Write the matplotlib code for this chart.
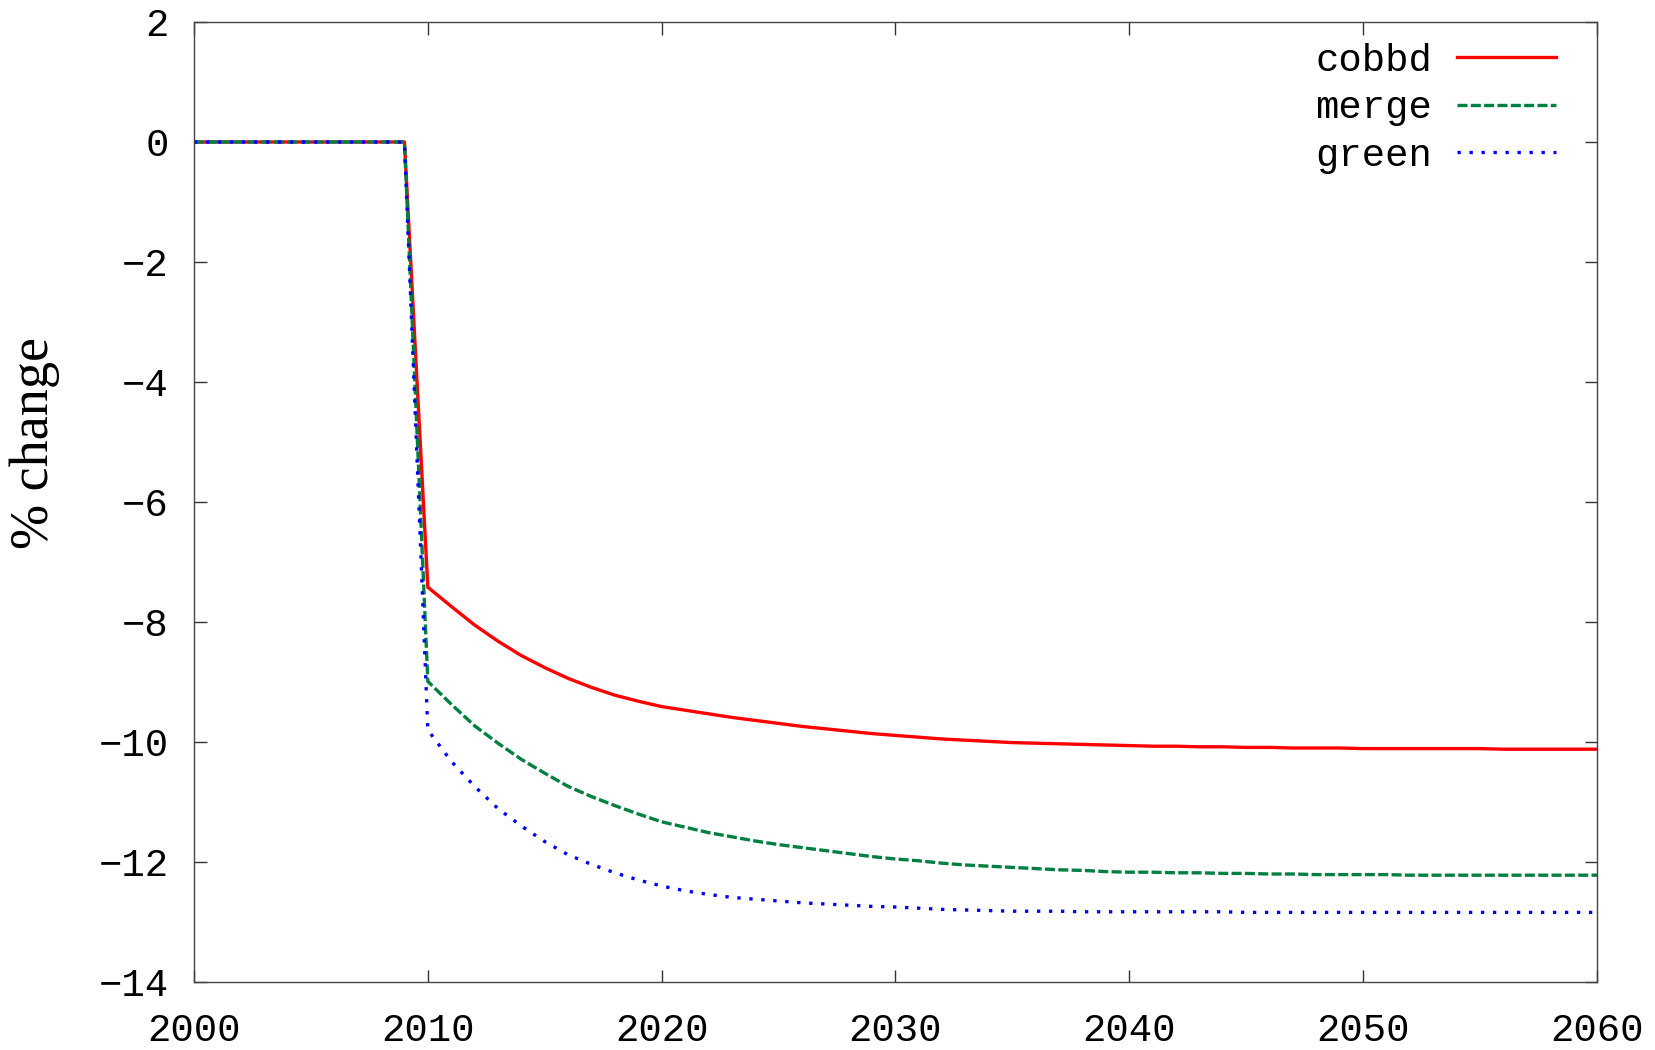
import matplotlib
matplotlib.use("Agg")
import matplotlib.pyplot as plt

# ── data ───────────────────────────────────────────────────────────────────
years = list(range(2000, 2061))

cobbd = [0.0] * 10 + [
    -7.42, -7.74, -8.05, -8.32, -8.56, -8.76, -8.94, -9.09, -9.22, -9.32,
    -9.41, -9.47, -9.53, -9.59, -9.64, -9.69, -9.74, -9.78, -9.82, -9.86,
    -9.89, -9.92, -9.95, -9.97, -9.99, -10.01, -10.02, -10.03, -10.04, -10.05,
    -10.06, -10.07, -10.07, -10.08, -10.08, -10.09, -10.09, -10.10, -10.10, -10.10,
    -10.11, -10.11, -10.11, -10.11, -10.11, -10.11, -10.12, -10.12, -10.12, -10.12,
    -10.12,
]
merge = [0.0] * 10 + [
    -8.99, -9.37, -9.73, -10.02, -10.29, -10.52, -10.74, -10.91, -11.06, -11.20,
    -11.33, -11.42, -11.51, -11.58, -11.65, -11.71, -11.76, -11.81, -11.86, -11.91,
    -11.95, -11.98, -12.02, -12.05, -12.07, -12.09, -12.11, -12.13, -12.14, -12.16,
    -12.17, -12.17, -12.18, -12.18, -12.19, -12.19, -12.20, -12.20, -12.21, -12.21,
    -12.21, -12.21, -12.22, -12.22, -12.22, -12.22, -12.22, -12.22, -12.22, -12.22,
    -12.22,
]
green = [0.0] * 10 + [
    -9.80, -10.32, -10.74, -11.11, -11.40, -11.66, -11.88, -12.04, -12.18, -12.30,
    -12.40, -12.48, -12.54, -12.59, -12.62, -12.65, -12.68, -12.70, -12.72, -12.74,
    -12.75, -12.77, -12.79, -12.80, -12.81, -12.82, -12.82, -12.82, -12.83, -12.83,
    -12.83, -12.83, -12.83, -12.83, -12.83, -12.84, -12.84, -12.84, -12.84, -12.84,
    -12.84, -12.84, -12.84, -12.84, -12.84, -12.84, -12.84, -12.84, -12.84, -12.84,
    -12.84,
]

x_ticks = list(range(2000, 2061, 10))
y_ticks = list(range(-14, 3, 2))

MONO = "Liberation Mono"
FS = 28

fig = plt.figure(figsize=(16.56, 10.5), dpi=100)
ax = fig.add_axes([194 / 1656, 1 - 982 / 1050, (1597 - 194) / 1656, (982 - 22) / 1050])

lw = 2.4
ax.plot(years, cobbd, color="#ff0000", lw=lw, label="cobbd")
ax.plot(years, merge, color="#008040", lw=lw, linestyle=(0, (3.0, 1.0)), label="merge")
ax.plot(years, green, color="#0000ff", lw=lw, linestyle=(0, (1.0, 2.6)), label="green")

ax.set_xlim(2000, 2060)
ax.set_ylim(-14, 2)
ax.set_xticks(x_ticks)
ax.set_yticks(y_ticks)
ax.tick_params(direction="in", length=9, width=1.0, color="#333333",
               top=True, right=True, labelsize=FS)
ax.tick_params(axis="x", pad=22)
ax.tick_params(axis="y", pad=18)
for lab in ax.get_xticklabels() + ax.get_yticklabels():
    lab.set_fontfamily(MONO)
for sp in ax.spines.values():
    sp.set_color("#444444")
    sp.set_linewidth(1.0)

fig.text(35 / 1656, 1 - 443 / 1050, "% change", rotation=90, ha="center", va="center",
         fontsize=39, family="Liberation Serif")

leg = ax.legend(loc="upper right", bbox_to_anchor=(1556 / 1656, 1 - 43 / 1050),
                bbox_transform=fig.transFigure, frameon=False, markerfirst=False,
                borderpad=0, borderaxespad=0, handlelength=2.55, handletextpad=0.64,
                labelspacing=0.29, prop={"family": MONO, "size": FS})

fig.savefig("out.png", dpi=100)
